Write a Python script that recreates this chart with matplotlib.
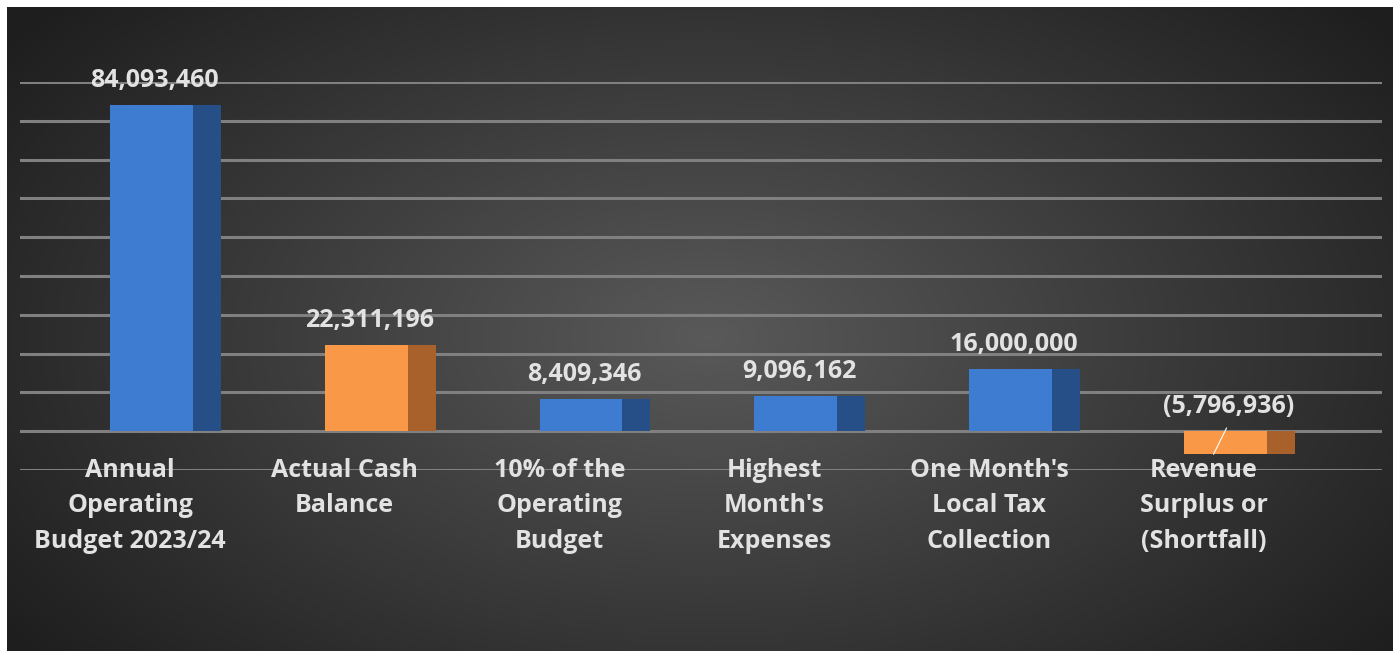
import numpy as np
import matplotlib.pyplot as plt

# Figures (USD)
categories = ["Annual\nOperating\nBudget 2023/24", "Actual Cash\nBalance",
              "10% of the\nOperating\nBudget", "Highest\nMonth's\nExpenses",
              "One Month's\nLocal Tax\nCollection", "Revenue\nSurplus or\n(Shortfall)"]
values = [84093460, 22311196, 8409346, 9096162, 16000000, -5796936]
value_labels = ["84,093,460", "22,311,196", "8,409,346", "9,096,162",
                "16,000,000", "(5,796,936)"]
kinds = ["blue", "orange", "blue", "blue", "blue", "orange"]

front = {"blue": "#3d7cd0", "orange": "#f99846"}
side = {"blue": "#254f86", "orange": "#a8612a"}
txt = "#e2e2e2"
plt.rcParams['font.family'] = ['Open Sans', 'DejaVu Sans']

W, H = 1397, 651
fig = plt.figure(figsize=(W / 100, H / 100), dpi=100)
fig.patch.set_facecolor("white")

# radial gradient background
bg = fig.add_axes([7 / W, 0, (1393 - 7) / W, (H - 7) / H])
yy, xx = np.mgrid[0:644, 0:1386]
r = np.sqrt(((xx - 700) / 900) ** 2 + ((yy - 330) / 520) ** 2)
shade = np.clip(0.35 - 0.24 * r, 0.12, 0.35)
bg.imshow(np.dstack([shade] * 3), aspect="auto", interpolation="bilinear")
bg.axis("off")

# chart area: 90M at y=82px, -10M at y=470px
ax = fig.add_axes([20 / W, (H - 470) / H, 1362 / W, 388 / H])
ax.patch.set_alpha(0)
ax.set_ylim(-10e6, 90e6)
ax.set_xlim(-0.612, 5.729)
for s in ax.spines.values():
    s.set_visible(False)
ax.set_xticks([])
ax.set_yticks(np.arange(-10e6, 91e6, 10e6))
ax.tick_params(left=False, labelleft=False)
ax.yaxis.grid(True, color="#808080", linewidth=2.2, zorder=0)
ax.set_axisbelow(True)

x = np.arange(len(values))
fw, sw = 0.386, 0.130
for i, v in enumerate(values):
    k = kinds[i]
    ax.bar(x[i], v, width=fw, color=front[k], zorder=3)
    ax.bar(x[i] + fw / 2 + sw / 2, v, width=sw, color=side[k], zorder=3)
    ax.annotate(value_labels[i], (x[i] + 0.015, max(v, 0)), xytext=(0, 17.5),
                textcoords="offset points", ha="center", va="center",
                fontsize=18, fontweight="bold", color=txt, zorder=5)
    ax.text(x[i] - 0.1, -7.0e6, categories[i], ha="center", va="top",
            fontsize=18, fontweight="bold", color=txt, linespacing=1.53,
            zorder=5)
    if v < 0:
        # leader line from the label down to the bar
        ax.plot([x[i] + 0.005, x[i] - 0.055], [0.8e6, v * 1.02],
                color="white", linewidth=0.8, zorder=4)

fig.savefig("out.png", dpi=100)
